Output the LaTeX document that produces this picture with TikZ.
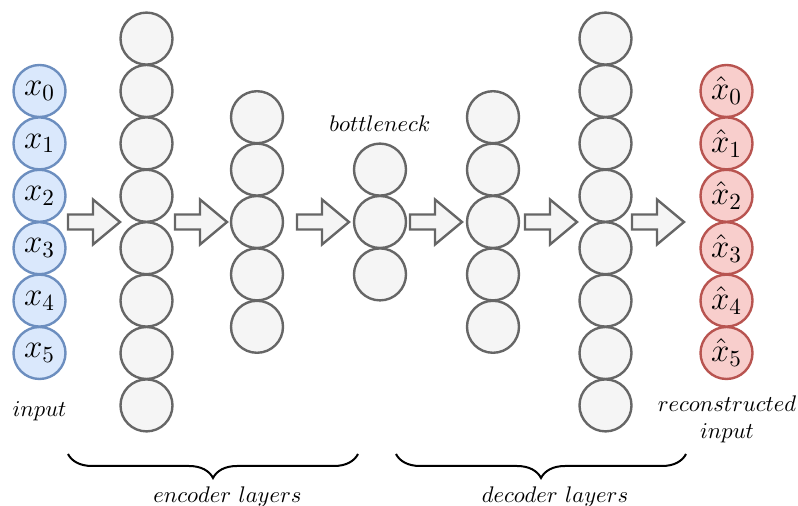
\RequirePackage{fix-cm}
\documentclass[tikz,border=0pt]{standalone}
\usepackage{amsmath}
\usetikzlibrary{decorations.pathreplacing}
\definecolor{grayfill}{HTML}{F5F5F5}
\definecolor{graydraw}{HTML}{666666}
\definecolor{bluefill}{HTML}{DAE8FC}
\definecolor{bluedraw}{HTML}{6C8EBF}
\definecolor{redfill}{HTML}{F8CECC}
\definecolor{reddraw}{HTML}{B85450}
\begin{document}
\begin{tikzpicture}[x=0.5pt,y=-0.5pt,
  neuron/.style={circle, minimum size=26pt, inner sep=0pt, line width=1.2pt, draw=graydraw, fill=grayfill},
  innode/.style={neuron, draw=bluedraw, fill=bluefill, font=\fontsize{16.5}{19}\selectfont},
  outnode/.style={neuron, draw=reddraw, fill=redfill, font=\fontsize{16.5}{19}\selectfont},
  blockarrow/.style={draw=graydraw, fill=grayfill, line width=1.2pt, line join=miter},
  lbl/.style={font=\fontsize{11.3}{13.5}\selectfont, inner sep=0pt, align=center},
  bracestyle/.style={decorate, decoration={brace, mirror, amplitude=12pt}, line width=1pt}
]
\useasboundingbox (0,0) rectangle (798,506);

% hidden layers
\foreach \col/\x/\n in {L1/146.5/8, L2/257/5, B/380/3, L4/493/5, L5/605.5/8} {
  \foreach \k in {1,...,\n}
    \node[neuron] (\col-\k) at (\x, {222+(\k-(\n+1)/2)*52.4}) {};
}
% input and output
\foreach \k/\i in {1/0,2/1,3/2,4/3,5/4,6/5} {
  \node[innode] (in-\k) at (39.5, {222+(\k-3.5)*52.4}) {$x_{\i}$};
  \node[outnode] (out-\k) at (726.5, {222+(\k-3.5)*52.4}) {$\hat{x}_{\i}$};
}

% block arrows
\foreach \name/\xs in {a1/68, a2/175, a3/297, a4/410, a5/525, a6/632} {
  \coordinate (\name) at (\xs,222);
  \draw[blockarrow] (\name) ++(0,-7.5) -- ++(25,0) -- ++(0,-15) -- ++(27,22.5)
    -- ++(-27,22.5) -- ++(0,-15) -- ++(-25,0) -- cycle;
}

% labels
\node[lbl] (inlbl) at (39.5,411) {$input$};
\node[lbl] (bnlbl) at (380,124) {$bottleneck$};
\node[lbl] (outlbl) at (727,419) {$reconstructed$\\$input$};

% braces
\coordinate (encL) at (68,454);
\coordinate (encR) at (358,454);
\coordinate (decL) at (396,454);
\coordinate (decR) at (686,454);
\draw[bracestyle] (encL) -- (encR);
\draw[bracestyle] (decL) -- (decR);
\node[lbl] (enclbl) at (227.5,497) {$encoder\ layers$};
\node[lbl] (declbl) at (555,497) {$decoder\ layers$};
\end{tikzpicture}
\end{document}
